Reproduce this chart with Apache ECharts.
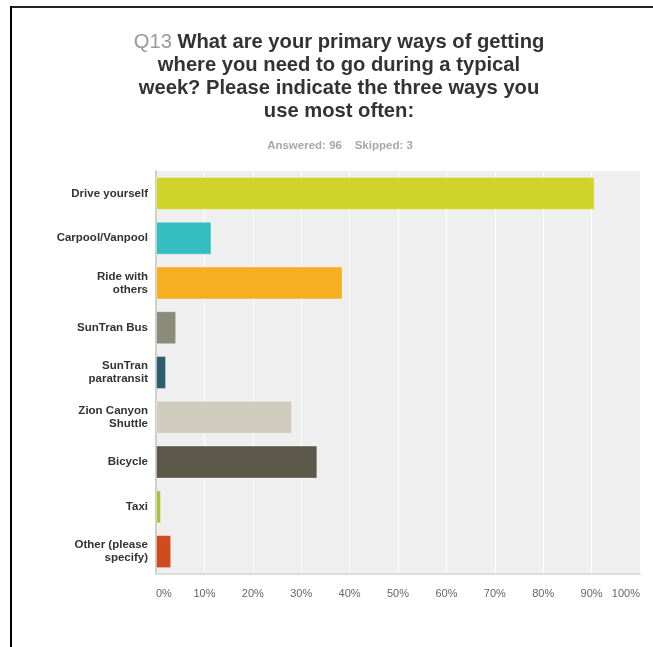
<!DOCTYPE html>
<html>
<head>
<meta charset="utf-8">
<script src="https://cdn.jsdelivr.net/npm/echarts@6/dist/echarts.min.js"></script>
<style>
html,body{margin:0;padding:0;background:#fff;}
#chart{width:653px;height:647px;}
</style>
</head>
<body>
<div id="chart"></div>
<script>
var categories = ['Drive yourself', 'Carpool/Vanpool', 'Ride with\nothers', 'SunTran Bus', 'SunTran\nparatransit', 'Zion Canyon\nShuttle', 'Bicycle', 'Taxi', 'Other (please\nspecify)'];
var values = [90.63, 11.46, 38.54, 4.17, 2.08, 28.13, 33.33, 1.04, 3.13];
var colors = ['#d0d42a', '#34bec1', '#f6ae22', '#8b8b79', '#2d5e6d', '#d0cdbf', '#5b5849', '#acc23f', '#cf4a1d'];
var xTicks = [0, 10, 20, 30, 40, 50, 60, 70, 80, 90, 100];
var titleLines = ['What are your primary ways of getting', 'where you need to go during a typical', 'week? Please indicate the three ways you', 'use most often:'];
var subtitleText = 'Answered: 96    Skipped: 3';

var chart = echarts.init(document.getElementById('chart'));
var FONT = '"Liberation Sans", Arial, sans-serif';

chart.setOption({
  animation: false,
  textStyle: { fontFamily: FONT },
  title: [{
    text: '{q|Q13} ' + titleLines.join('\n'),
    left: 339,
    top: 31,
    padding: 0,
    textAlign: 'center',
    textStyle: {
      fontFamily: FONT,
      fontSize: 20.2,
      fontWeight: 'bold',
      color: '#333',
      lineHeight: 23,
      align: 'center',
      rich: {
        q: { fontFamily: FONT, fontSize: 20.2, fontWeight: 'normal', color: '#9a9a9a', lineHeight: 23 }
      }
    }
  }, {
    text: subtitleText,
    left: 340,
    top: 139,
    padding: 0,
    textAlign: 'center',
    textStyle: { fontFamily: FONT, fontSize: 11.5, fontWeight: 'bold', color: '#a8a8a8', lineHeight: 13 }
  }],
  graphic: [
    { type: 'line', shape: { x1: 10, y1: 7, x2: 653, y2: 7 }, style: { stroke: '#222', lineWidth: 2 } },
    { type: 'line', shape: { x1: 11, y1: 6, x2: 11, y2: 647 }, style: { stroke: '#000', lineWidth: 2 } }
  ],
  grid: {
    left: 156, right: 13, top: 171, bottom: 73,
    show: true, backgroundColor: '#efefef', borderWidth: 0
  },
  xAxis: {
    type: 'value',
    min: xTicks[0], max: xTicks[xTicks.length - 1], interval: 10,
    axisLine: { show: true, lineStyle: { color: '#dcdcdc', width: 2 } },
    axisTick: { show: false },
    splitLine: { show: true, lineStyle: { color: '#ffffff', width: 1 } },
    axisLabel: {
      formatter: '{value}%', color: '#666', fontSize: 11, margin: 14,
      fontFamily: FONT, alignMinLabel: 'left', alignMaxLabel: 'right'
    }
  },
  yAxis: {
    type: 'category',
    data: categories,
    inverse: true,
    axisLine: { show: true, lineStyle: { color: '#cfcfcf', width: 2 } },
    axisTick: { show: false },
    axisLabel: { color: '#333', fontSize: 11.5, fontWeight: 'bold', margin: 8, lineHeight: 13, fontFamily: FONT }
  },
  series: [{
    type: 'bar',
    data: values.map(function (v, i) { return { value: v, itemStyle: { color: colors[i] } }; }),
    barWidth: 33,
    itemStyle: { borderColor: 'rgba(255,255,255,0.35)', borderWidth: 1 }
  }]
});
</script>
</body>
</html>
